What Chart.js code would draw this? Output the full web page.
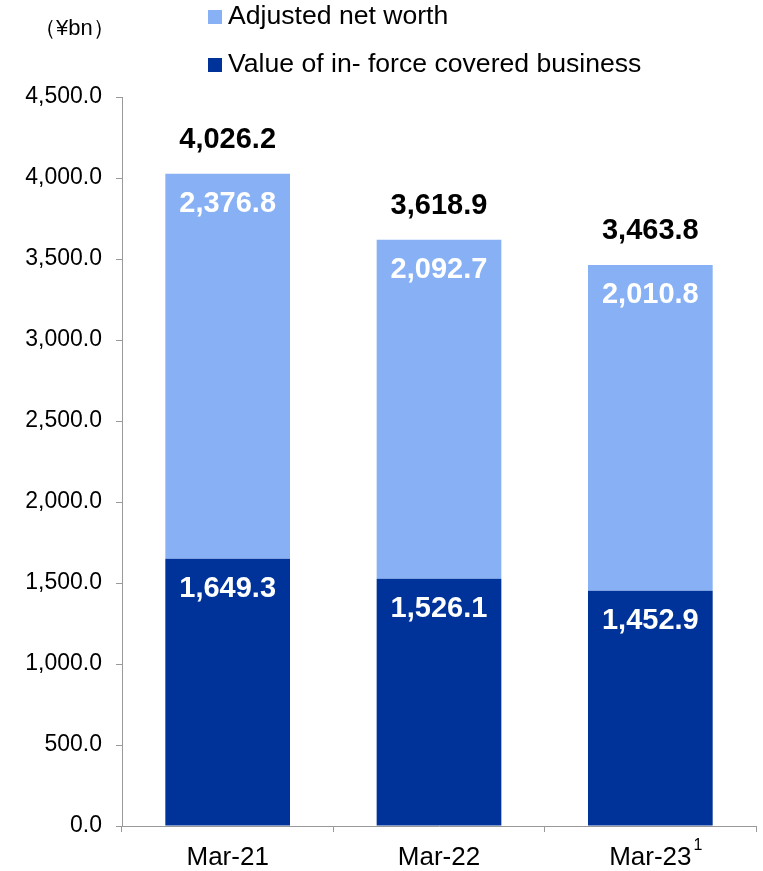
<!DOCTYPE html>
<html>
<head>
<meta charset="utf-8">
<script src="https://cdn.jsdelivr.net/npm/chart.js@4"></script>
<style>
  html, body { margin: 0; padding: 0; background: #fff; }
  #wrap { width: 763px; height: 871px; position: relative; }
</style>
</head>
<body>
<div id="wrap"><canvas id="EmbedChart"></canvas></div>
<script>
// Categories and values (¥bn)
var periods = ["Mar-21", "Mar-22", "Mar-23"];
var inForce = [1649.3, 1526.1, 1452.9];
var netWorth = [2376.8, 2092.7, 2010.8];
var totals = [4026.2, 3618.9, 3463.8];

var darkBlue = "#003399";
var lightBlue = "#88B1F5";
var font = "'Liberation Sans', Arial, sans-serif";

function fmt(v) {
    return v.toLocaleString("en-US", { minimumFractionDigits: 1, maximumFractionDigits: 1 });
}

// Values inside and on top of the bars, unit, legend, footnote mark
var extras = {
    id: "extras",
    afterDatasetsDraw: function (chart) {
        var ctx = chart.ctx;
        ctx.save();
        ctx.textAlign = "center";
        ctx.textBaseline = "middle";
        ctx.font = "bold 29px " + font;
        chart.data.datasets.forEach(function (ds, i) {
            chart.getDatasetMeta(i).data.forEach(function (bar, j) {
                ctx.fillStyle = "#fff";
                ctx.fillText(fmt(ds.data[j]), bar.x, bar.y + 30);
            });
        });
        var top = chart.getDatasetMeta(1).data;
        ctx.fillStyle = "#000";
        top.forEach(function (bar, j) {
            ctx.fillText(fmt(totals[j]), bar.x, bar.y - 34);
        });

        // unit
        ctx.font = "22px " + font;
        ctx.textAlign = "left";
        ctx.fillText("（¥bn）", 34, 29);

        // legend
        ctx.font = "26.6px " + font;
        var items = [[lightBlue, "Adjusted net worth"], [darkBlue, "Value of in- force covered business"]];
        items.forEach(function (it, k) {
            var y = 17 + k * 48;
            ctx.fillStyle = it[0];
            ctx.fillRect(208, y - 7, 14, 14);
            ctx.fillStyle = "#000";
            ctx.fillText(it[1], 228, y);
        });

        // footnote superscript on last category
        var xs = chart.scales.x;
        var cx = xs.getPixelForValue(2);
        ctx.font = "26px " + font;
        var w = ctx.measureText(periods[2]).width;
        ctx.font = "16px " + font;
        ctx.fillText("1", cx + w / 2 + 2, 846);
        ctx.restore();
    }
};

var ctx = document.getElementById("EmbedChart");

var EmbedChart = new Chart(ctx, {
    type: "bar",
    data: {
        labels: periods,
        datasets: [
            {
                label: "Value of in- force covered business",
                data: inForce,
                backgroundColor: darkBlue,
                barPercentage: 0.59,
                categoryPercentage: 1
            },
            {
                label: "Adjusted net worth",
                data: netWorth,
                backgroundColor: lightBlue,
                barPercentage: 0.59,
                categoryPercentage: 1
            }
        ]
    },
    options: {
        responsive: true,
        maintainAspectRatio: false,
        animation: false,
        layout: { padding: { top: 97, right: 7, left: 0, bottom: 0 } },
        plugins: { legend: { display: false }, tooltip: { enabled: false } },
        scales: {
            x: {
                stacked: true,
                grid: { drawOnChartArea: false, tickLength: 6, color: "#999", offset: true },
                border: { color: "#999" },
                ticks: { color: "#000", font: { family: font, size: 26 }, padding: 10 },
                afterFit: function (s) { s.height = 45; }
            },
            y: {
                stacked: true,
                min: 0,
                max: 4500,
                ticks: {
                    stepSize: 500,
                    color: "#000",
                    font: { family: font, size: 23 },
                    padding: 14,
                    callback: function (v) { return fmt(v); }
                },
                grid: { drawOnChartArea: false, tickLength: 6, color: "#999" },
                border: { color: "#999" },
                afterFit: function (s) { s.width = 122; }
            }
        }
    },
    plugins: [extras]
});
</script>
</body>
</html>
